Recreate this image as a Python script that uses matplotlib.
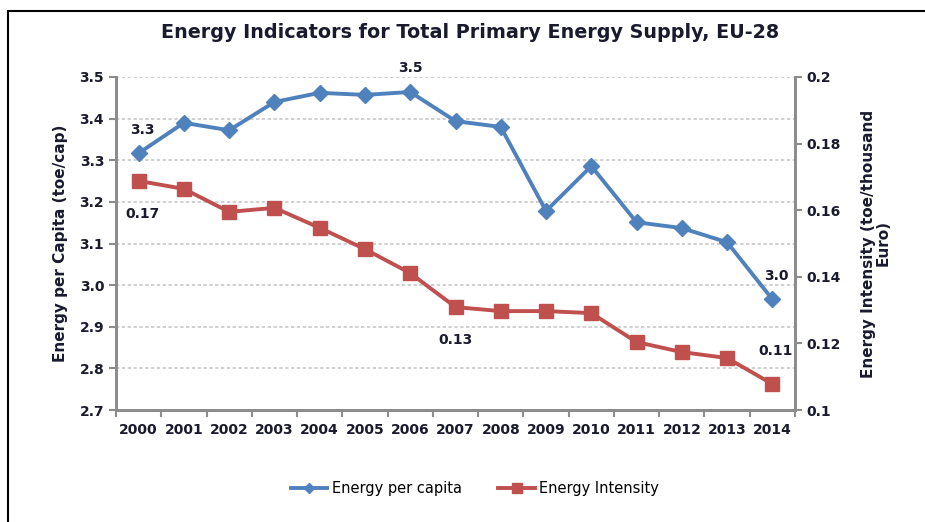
import matplotlib
matplotlib.use("Agg")
import matplotlib.pyplot as plt
from matplotlib.patches import Rectangle

years = ["2000", "2001", "2002", "2003", "2004", "2005", "2006", "2007",
         "2008", "2009", "2010", "2011", "2012", "2013", "2014"]
energy_per_capita = [3.317, 3.390, 3.372, 3.440, 3.462, 3.457, 3.464, 3.394,
                     3.380, 3.178, 3.286, 3.151, 3.137, 3.103, 2.966]
energy_intensity = [0.1688, 0.1664, 0.1595, 0.1607, 0.1547, 0.1483, 0.1411, 0.1309,
                    0.1297, 0.1297, 0.1291, 0.1204, 0.1174, 0.1156, 0.1078]

# labelled points: (index, text)
capita_labels = [(0, "3.3"), (6, "3.5"), (14, "3.0")]
intensity_labels = [(0, "0.17"), (7, "0.13"), (14, "0.11")]

BLUE = "#4F81BD"
RED = "#C0504D"
TEXT = "#1a1a2e"
AXIS = "#8c8c8c"

fig = plt.figure(figsize=(9.25, 5.22), dpi=100)
ax = fig.add_axes([116 / 925, 1 - 410 / 522, (795 - 116) / 925, (410 - 77) / 522])
ax2 = ax.twinx()

x = list(range(len(years)))
ax.plot(x, energy_per_capita, color=BLUE, lw=2.8, marker="D", ms=8,
        label="Energy per capita", zorder=3)
ax2.plot(x, energy_intensity, color=RED, lw=2.8, marker="s", ms=10,
         label="Energy Intensity", zorder=3)

ax.set_xlim(-0.5, len(years) - 0.5)
ax.set_ylim(2.7, 3.5)
ax.set_yticks([2.7 + 0.1 * i for i in range(9)])
ax.set_yticklabels([f"{2.7 + 0.1 * i:.1f}" for i in range(9)])
ax2.set_ylim(0.1, 0.2)
ax2.set_yticks([0.1, 0.12, 0.14, 0.16, 0.18, 0.2])
ax2.set_yticklabels(["0.1", "0.12", "0.14", "0.16", "0.18", "0.2"])

ax.set_xticks(x)
ax.set_xticklabels(years)
ax.set_xticks([i - 0.5 for i in range(len(years) + 1)], minor=True)
ax.tick_params(axis="x", which="major", length=0, pad=9, labelsize=10, colors=TEXT)
ax.tick_params(axis="x", which="minor", length=5, color=AXIS, width=1.5)
ax.tick_params(axis="y", length=5, color=AXIS, width=1.5, labelsize=10, labelcolor=TEXT)
ax2.tick_params(axis="y", length=5, color=AXIS, width=1.5, labelsize=10, labelcolor=TEXT)
for lbl in ax.get_xticklabels() + ax.get_yticklabels() + ax2.get_yticklabels():
    lbl.set_fontweight("bold")

ax.grid(axis="y", color="#c8c8c8", ls=(0, (2, 1.5)), lw=1.2)
ax.set_axisbelow(True)
for a in (ax, ax2):
    a.spines["top"].set_visible(False)
    for side in ("left", "right", "bottom"):
        a.spines[side].set_color(AXIS)
        a.spines[side].set_linewidth(2)

capita_offsets = {0: (3, 12), 6: (0, 12), 14: (3, 12)}
for i, t in capita_labels:
    ax.annotate(t, (i, energy_per_capita[i]), xytext=capita_offsets[i],
                textcoords="offset points", ha="center", va="bottom",
                fontsize=10, fontweight="bold", color=TEXT)
intensity_offsets = {0: (3, -19, "top"), 7: (0, -19, "top"), 14: (2, 19, "bottom")}
for i, t in intensity_labels:
    dx, dy, va = intensity_offsets[i]
    ax2.annotate(t, (i, energy_intensity[i]), xytext=(dx, dy), textcoords="offset points",
                 ha="center", va=va, fontsize=10, fontweight="bold", color=TEXT)

ax.set_ylabel("Energy per Capita (toe/cap)", fontsize=11, fontweight="bold",
              color=TEXT, labelpad=8)
ax2.set_ylabel("Energy Intensity (toe/thousand\nEuro)", fontsize=11, fontweight="bold",
               color=TEXT, rotation=90, labelpad=14, linespacing=1.0)

fig.suptitle("Energy Indicators for Total Primary Energy Supply, EU-28",
             x=470 / 925, y=1 - 33 / 522, va="center", fontsize=13.8,
             fontweight="bold", color=TEXT)

h1, l1 = ax.get_legend_handles_labels()
h2, l2 = ax2.get_legend_handles_labels()
fig.legend(h1 + h2, l1 + l2, loc="center", bbox_to_anchor=(475 / 925, 1 - 489 / 522),
           ncol=2, frameon=False, fontsize=10.5, handlelength=2.5, columnspacing=2.5,
           handletextpad=0.3, markerscale=0.7)

fig.patches.append(Rectangle((8 / 925, -0.1), 1.2, 1 - 11 / 522 + 0.1,
                             transform=fig.transFigure, fill=False,
                             edgecolor="black", lw=1.5))

fig.savefig("out.png", dpi=100)
